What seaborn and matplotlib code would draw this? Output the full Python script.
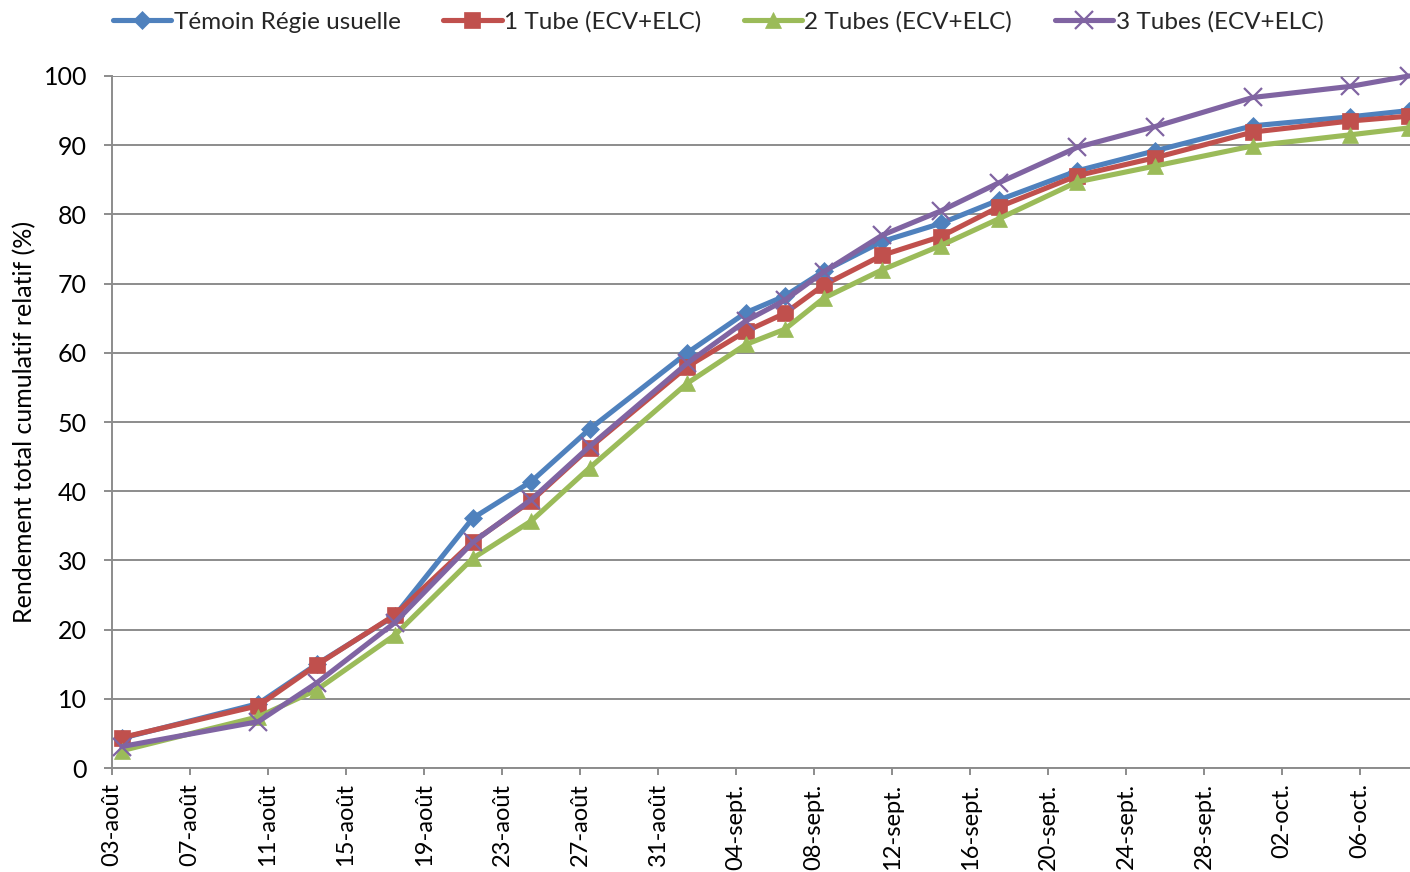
import matplotlib
matplotlib.use("Agg")
import matplotlib.pyplot as plt
import numpy as np
import pandas as pd
import seaborn as sns

# ---------------- data ----------------
dates = ["2012-08-03", "2012-08-10", "2012-08-13", "2012-08-17", "2012-08-21",
         "2012-08-24", "2012-08-27", "2012-09-01", "2012-09-04", "2012-09-06",
         "2012-09-08", "2012-09-11", "2012-09-14", "2012-09-17", "2012-09-21",
         "2012-09-25", "2012-09-30", "2012-10-05", "2012-10-08"]

temoin = [4.3, 9.3, 15.0, 22.0, 36.1, 41.4, 49.0, 60.0, 65.8, 68.2,
          71.8, 76.1, 78.7, 82.1, 86.3, 89.2, 92.8, 94.1, 95.0]
tube1 = [4.4, 9.0, 14.9, 22.1, 32.7, 38.6, 46.3, 58.0, 63.1, 65.7,
         69.8, 74.1, 76.8, 81.1, 85.6, 88.2, 91.9, 93.5, 94.2]
tube2 = [2.5, 7.4, 11.3, 19.2, 30.3, 35.7, 43.4, 55.6, 61.2, 63.4,
         67.9, 72.0, 75.5, 79.4, 84.7, 87.0, 89.9, 91.5, 92.5]
tube3 = [3.1, 6.7, 12.3, 21.0, 32.6, 38.8, 46.5, 58.5, 64.6, 67.6,
         71.7, 77.0, 80.5, 84.6, 89.7, 92.7, 96.9, 98.5, 100.0]

series_names = ["Témoin Régie usuelle", "1 Tube (ECV+ELC)",
                "2 Tubes (ECV+ELC)", "3 Tubes (ECV+ELC)"]

tick_dates = ["2012-08-03", "2012-08-07", "2012-08-11", "2012-08-15", "2012-08-19",
              "2012-08-23", "2012-08-27", "2012-08-31", "2012-09-04", "2012-09-08",
              "2012-09-12", "2012-09-16", "2012-09-20", "2012-09-24", "2012-09-28",
              "2012-10-02", "2012-10-06"]
tick_labels = ["03-août", "07-août", "11-août", "15-août", "19-août", "23-août",
               "27-août", "31-août", "04-sept.", "08-sept.", "12-sept.", "16-sept.",
               "20-sept.", "24-sept.", "28-sept.", "02-oct.", "06-oct."]

y_ticks = [0, 10, 20, 30, 40, 50, 60, 70, 80, 90, 100]

# ---------------- styling ----------------
colors = ["#4F81BD", "#C0504D", "#9BBB59", "#8064A2"]
markers = ["D", "s", "^", "x"]
msizes = [9, 11, 12, 13]

sns.set_theme(style="white")
plt.rcParams["font.family"] = ["Lato", "DejaVu Sans"]

W, H = 1410, 872
fig = plt.figure(figsize=(W / 100, H / 100), dpi=100)
ax = fig.add_axes([112 / W, 1 - 768 / H, 1 - 112 / W, (768 - 76) / H])

# points are placed in the middle of their day (Excel date axis behaviour)
x_dates = pd.to_datetime(dates) + pd.Timedelta(hours=12)
all_vals = [temoin, tube1, tube2, tube3]

for name, vals, c, m, ms in zip(series_names, all_vals, colors, markers, msizes):
    df = pd.DataFrame({"date": x_dates, "val": vals})
    sns.lineplot(data=df, x="date", y="val", ax=ax, color=c, linewidth=3.7,
                 marker=m, markersize=ms, markeredgecolor=c, markerfacecolor=c,
                 markeredgewidth=1.6 if m == "x" else 0.5, clip_on=False,
                 label=name, legend=False, zorder=3)

# axes limits
x0 = pd.Timestamp("2012-08-03")
ax.set_xlim(x0, x0 + pd.Timedelta(days=66.56))
ax.set_ylim(0, 100)

# grid
ax.set_yticks(y_ticks)
ax.yaxis.grid(True, color="#8C8C8C", linewidth=1.4)
ax.xaxis.grid(False)
ax.set_axisbelow(True)

for s in ["top", "right"]:
    ax.spines[s].set_visible(False)
for s in ["left", "bottom"]:
    ax.spines[s].set_color("#8C8C8C")
    ax.spines[s].set_linewidth(1.4)

ax.set_xticks(pd.to_datetime(tick_dates))
ax.set_xticklabels(tick_labels, rotation=90, va="top", ha="center")
ax.tick_params(axis="x", which="major", direction="out", length=5, width=1.4,
               color="#8C8C8C", pad=6, labelsize=17, labelcolor="black", bottom=True)
ax.tick_params(axis="y", which="major", direction="out", length=6, width=1.4,
               color="#8C8C8C", pad=12, labelsize=18, labelcolor="black", left=True)

ax.set_xlabel("")
ax.set_ylabel("Rendement total cumulatif relatif (%)", fontsize=18, color="black",
              labelpad=5)

# legend at top
h, l = ax.get_legend_handles_labels()
leg = fig.legend(h, l, loc="center left", bbox_to_anchor=(113 / W, 1 - 22 / H),
                 ncol=4, frameon=False, fontsize=17.5, handlelength=2.4,
                 handletextpad=0.1, columnspacing=1.75, borderaxespad=0,
                 borderpad=0)

fig.savefig("out.png", dpi=100)
